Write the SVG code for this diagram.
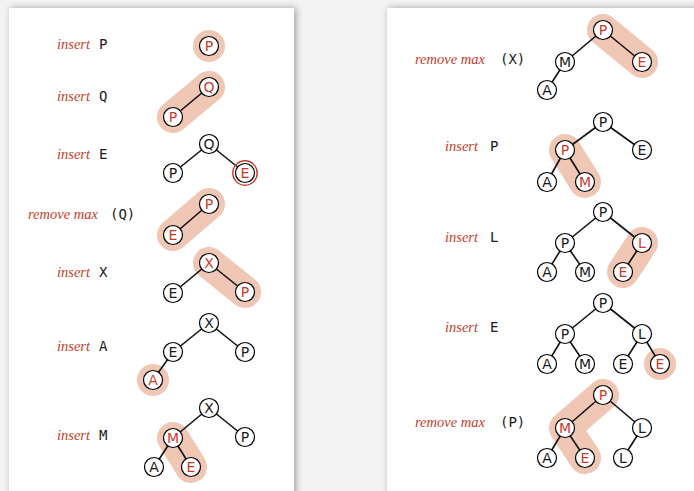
<svg xmlns="http://www.w3.org/2000/svg" width="694" height="491" viewBox="0 0 694 491">
  <defs>
    <filter id="panelShadow" x="-10%" y="-10%" width="120%" height="120%">
      <feDropShadow dx="2" dy="0" stdDeviation="3.5" flood-color="#000" flood-opacity="0.35"/>
    </filter>
  </defs>
  <style>
    .op { font-family: "Liberation Serif", "DejaVu Serif", serif; font-style: italic; font-size: 14.5px; fill: #c63b2b; }
    .key { font-family: "DejaVu Sans Mono", "Liberation Mono", monospace; font-size: 14px; fill: #1a1a1a; }
    .node circle { fill: #fff; stroke: #000; stroke-width: 1.2; }
    .node circle.ring { fill: none; stroke: #c8382a; stroke-width: 1.4; }
    .node text { font-family: "DejaVu Sans", "Liberation Sans", sans-serif; font-size: 14px; text-anchor: middle; fill: #1a1a1a; }
    .node.hot text { fill: #cc3a2a; }
    .halo { fill: none; stroke: #f0c6b5; stroke-width: 32; stroke-linecap: round; stroke-linejoin: round; }
    .halo-dot { fill: #f0c6b5; }
    .edges line { stroke: #111; stroke-width: 1.6; }
  </style>

  <!-- backdrop and the two sheets -->
  <rect x="0" y="0" width="694" height="491" fill="#f3f3f3"/>
  <rect x="9" y="8" width="285" height="500" fill="#fff" filter="url(#panelShadow)"/>
  <rect x="387" y="8" width="320" height="500" fill="#fff" filter="url(#panelShadow)"/>

  <!-- operation labels -->
  <g id="labels">
    <text class="op" x="57" y="49">insert</text><text class="key" x="99" y="49">P</text>
    <text class="op" x="57" y="101">insert</text><text class="key" x="99" y="101">Q</text>
    <text class="op" x="57" y="159">insert</text><text class="key" x="99" y="159">E</text>
    <text class="op" x="28" y="219">remove max</text><text class="key" x="110" y="219">(Q)</text>
    <text class="op" x="57" y="277">insert</text><text class="key" x="99" y="277">X</text>
    <text class="op" x="57" y="351">insert</text><text class="key" x="99" y="351">A</text>
    <text class="op" x="57" y="440">insert</text><text class="key" x="99" y="440">M</text>

    <text class="op" x="415" y="64">remove max</text><text class="key" x="500" y="64">(X)</text>
    <text class="op" x="445" y="151">insert</text><text class="key" x="490" y="151">P</text>
    <text class="op" x="445" y="242">insert</text><text class="key" x="490" y="242">L</text>
    <text class="op" x="445" y="332">insert</text><text class="key" x="490" y="332">E</text>
    <text class="op" x="415" y="427">remove max</text><text class="key" x="500" y="427">(P)</text>
  </g>

  <!-- highlighted paths (sift-up / sift-down) -->
  <g id="halos">
    <circle class="halo-dot" cx="209" cy="46" r="16"/>
    <line class="halo" x1="173" y1="117" x2="209" y2="87"/>
    <line class="halo" x1="209" y1="204" x2="173" y2="235"/>
    <line class="halo" x1="209" y1="263" x2="245" y2="292"/>
    <circle class="halo-dot" cx="153" cy="380" r="16"/>
    <line class="halo" x1="173" y1="438" x2="191" y2="467"/>

    <line class="halo" x1="603" y1="30" x2="642" y2="62"/>
    <line class="halo" x1="565" y1="150" x2="585" y2="182"/>
    <line class="halo" x1="642" y1="243" x2="623" y2="272"/>
    <circle class="halo-dot" cx="660" cy="364" r="16"/>
    <polyline class="halo" points="603,395 565,428 585,458"/>
  </g>

  <!-- tree links -->
  <g id="connectors" class="edges">
    <line x1="209" y1="87" x2="173" y2="117"/>

    <line x1="209" y1="144" x2="173" y2="173"/>
    <line x1="209" y1="144" x2="245" y2="173"/>

    <line x1="209" y1="204" x2="173" y2="235"/>

    <line x1="209" y1="263" x2="173" y2="293"/>
    <line x1="209" y1="263" x2="245" y2="292"/>

    <line x1="209" y1="323" x2="173" y2="352"/>
    <line x1="209" y1="323" x2="245" y2="352"/>
    <line x1="173" y1="352" x2="153" y2="380"/>

    <line x1="209" y1="408" x2="173" y2="438"/>
    <line x1="209" y1="408" x2="245" y2="437"/>
    <line x1="173" y1="438" x2="154" y2="467"/>
    <line x1="173" y1="438" x2="191" y2="467"/>

    <line x1="603" y1="30" x2="565" y2="62"/>
    <line x1="603" y1="30" x2="642" y2="62"/>
    <line x1="565" y1="62" x2="547" y2="90"/>

    <line x1="603" y1="122" x2="565" y2="150"/>
    <line x1="603" y1="122" x2="642" y2="150"/>
    <line x1="565" y1="150" x2="547" y2="182"/>
    <line x1="565" y1="150" x2="585" y2="182"/>

    <line x1="603" y1="212" x2="565" y2="243"/>
    <line x1="603" y1="212" x2="642" y2="243"/>
    <line x1="565" y1="243" x2="547" y2="272"/>
    <line x1="565" y1="243" x2="585" y2="272"/>
    <line x1="642" y1="243" x2="623" y2="272"/>

    <line x1="603" y1="303" x2="565" y2="334"/>
    <line x1="603" y1="303" x2="642" y2="334"/>
    <line x1="565" y1="334" x2="547" y2="364"/>
    <line x1="565" y1="334" x2="585" y2="364"/>
    <line x1="642" y1="334" x2="623" y2="364"/>
    <line x1="642" y1="334" x2="660" y2="364"/>

    <line x1="603" y1="395" x2="565" y2="428"/>
    <line x1="603" y1="395" x2="642" y2="428"/>
    <line x1="565" y1="428" x2="547" y2="458"/>
    <line x1="565" y1="428" x2="585" y2="458"/>
    <line x1="642" y1="428" x2="623" y2="458"/>
  </g>

  <!-- heap 1: insert P -->
  <g id="h1-P" class="node hot"><circle cx="209" cy="46" r="9.5"/><text x="209" y="51">P</text></g>

  <!-- heap 2: insert Q -->
  <g id="h2-Q" class="node hot"><circle cx="209" cy="87" r="9.5"/><text x="209" y="92">Q</text></g>
  <g id="h2-P" class="node hot"><circle cx="173" cy="117" r="9.5"/><text x="173" y="122">P</text></g>

  <!-- heap 3: insert E -->
  <g id="h3-Q" class="node"><circle cx="209" cy="144" r="9.5"/><text x="209" y="149">Q</text></g>
  <g id="h3-P" class="node"><circle cx="173" cy="173" r="9.5"/><text x="173" y="178">P</text></g>
  <g id="h3-E" class="node hot"><circle cx="245" cy="173" r="9.5"/><circle class="ring" cx="245" cy="173" r="12.2"/><text x="245" y="178">E</text></g>

  <!-- heap 4: remove max (Q) -->
  <g id="h4-P" class="node hot"><circle cx="209" cy="204" r="9.5"/><text x="209" y="209">P</text></g>
  <g id="h4-E" class="node hot"><circle cx="173" cy="235" r="9.5"/><text x="173" y="240">E</text></g>

  <!-- heap 5: insert X -->
  <g id="h5-X" class="node hot"><circle cx="209" cy="263" r="9.5"/><text x="209" y="268">X</text></g>
  <g id="h5-E" class="node"><circle cx="173" cy="293" r="9.5"/><text x="173" y="298">E</text></g>
  <g id="h5-P" class="node hot"><circle cx="245" cy="292" r="9.5"/><text x="245" y="297">P</text></g>

  <!-- heap 6: insert A -->
  <g id="h6-X" class="node"><circle cx="209" cy="323" r="9.5"/><text x="209" y="328">X</text></g>
  <g id="h6-E" class="node"><circle cx="173" cy="352" r="9.5"/><text x="173" y="357">E</text></g>
  <g id="h6-P" class="node"><circle cx="245" cy="352" r="9.5"/><text x="245" y="357">P</text></g>
  <g id="h6-A" class="node hot"><circle cx="153" cy="380" r="9.5"/><text x="153" y="385">A</text></g>

  <!-- heap 7: insert M -->
  <g id="h7-X" class="node"><circle cx="209" cy="408" r="9.5"/><text x="209" y="413">X</text></g>
  <g id="h7-M" class="node hot"><circle cx="173" cy="438" r="9.5"/><text x="173" y="443">M</text></g>
  <g id="h7-P" class="node"><circle cx="245" cy="437" r="9.5"/><text x="245" y="442">P</text></g>
  <g id="h7-A" class="node"><circle cx="154" cy="467" r="9.5"/><text x="154" y="472">A</text></g>
  <g id="h7-E" class="node hot"><circle cx="191" cy="467" r="9.5"/><text x="191" y="472">E</text></g>

  <!-- heap 8: remove max (X) -->
  <g id="h8-P" class="node hot"><circle cx="603" cy="30" r="9.5"/><text x="603" y="35">P</text></g>
  <g id="h8-M" class="node"><circle cx="565" cy="62" r="9.5"/><text x="565" y="67">M</text></g>
  <g id="h8-E" class="node hot"><circle cx="642" cy="62" r="9.5"/><text x="642" y="67">E</text></g>
  <g id="h8-A" class="node"><circle cx="547" cy="90" r="9.5"/><text x="547" y="95">A</text></g>

  <!-- heap 9: insert P -->
  <g id="h9-P1" class="node"><circle cx="603" cy="122" r="9.5"/><text x="603" y="127">P</text></g>
  <g id="h9-P2" class="node hot"><circle cx="565" cy="150" r="9.5"/><text x="565" y="155">P</text></g>
  <g id="h9-E" class="node"><circle cx="642" cy="150" r="9.5"/><text x="642" y="155">E</text></g>
  <g id="h9-A" class="node"><circle cx="547" cy="182" r="9.5"/><text x="547" y="187">A</text></g>
  <g id="h9-M" class="node hot"><circle cx="585" cy="182" r="9.5"/><text x="585" y="187">M</text></g>

  <!-- heap 10: insert L -->
  <g id="h10-P1" class="node"><circle cx="603" cy="212" r="9.5"/><text x="603" y="217">P</text></g>
  <g id="h10-P2" class="node"><circle cx="565" cy="243" r="9.5"/><text x="565" y="248">P</text></g>
  <g id="h10-L" class="node hot"><circle cx="642" cy="243" r="9.5"/><text x="642" y="248">L</text></g>
  <g id="h10-A" class="node"><circle cx="547" cy="272" r="9.5"/><text x="547" y="277">A</text></g>
  <g id="h10-M" class="node"><circle cx="585" cy="272" r="9.5"/><text x="585" y="277">M</text></g>
  <g id="h10-E" class="node hot"><circle cx="623" cy="272" r="9.5"/><text x="623" y="277">E</text></g>

  <!-- heap 11: insert E -->
  <g id="h11-P1" class="node"><circle cx="603" cy="303" r="9.5"/><text x="603" y="308">P</text></g>
  <g id="h11-P2" class="node"><circle cx="565" cy="334" r="9.5"/><text x="565" y="339">P</text></g>
  <g id="h11-L" class="node"><circle cx="642" cy="334" r="9.5"/><text x="642" y="339">L</text></g>
  <g id="h11-A" class="node"><circle cx="547" cy="364" r="9.5"/><text x="547" y="369">A</text></g>
  <g id="h11-M" class="node"><circle cx="585" cy="364" r="9.5"/><text x="585" y="369">M</text></g>
  <g id="h11-E1" class="node"><circle cx="623" cy="364" r="9.5"/><text x="623" y="369">E</text></g>
  <g id="h11-E2" class="node hot"><circle cx="660" cy="364" r="9.5"/><text x="660" y="369">E</text></g>

  <!-- heap 12: remove max (P) -->
  <g id="h12-P" class="node hot"><circle cx="603" cy="395" r="9.5"/><text x="603" y="400">P</text></g>
  <g id="h12-M" class="node hot"><circle cx="565" cy="428" r="9.5"/><text x="565" y="433">M</text></g>
  <g id="h12-L1" class="node"><circle cx="642" cy="428" r="9.5"/><text x="642" y="433">L</text></g>
  <g id="h12-A" class="node"><circle cx="547" cy="458" r="9.5"/><text x="547" y="463">A</text></g>
  <g id="h12-E" class="node hot"><circle cx="585" cy="458" r="9.5"/><text x="585" y="463">E</text></g>
  <g id="h12-L2" class="node"><circle cx="623" cy="458" r="9.5"/><text x="623" y="463">L</text></g>
</svg>
